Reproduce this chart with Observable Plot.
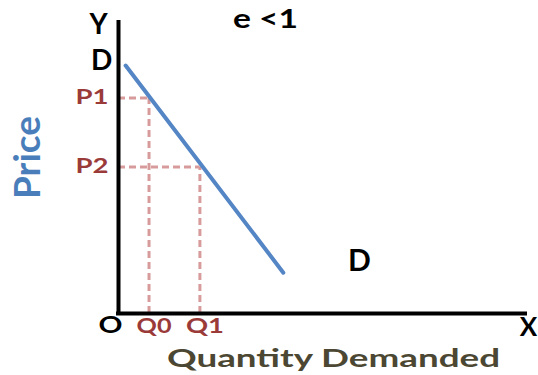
<!DOCTYPE html>
<html>
<head>
<meta charset="utf-8">
<script src="https://cdn.jsdelivr.net/npm/d3@7"></script>
<script src="https://cdn.jsdelivr.net/npm/@observablehq/plot@0.6"></script>
<style>
  html, body { margin: 0; padding: 0; background: #fff; }
  #chart { width: 538px; height: 375px; }
</style>
</head>
<body>
<div id="chart"></div>
<script>
// Inelastic demand curve (e < 1): a price change from P1 to P2
// moves quantity demanded only a little, from Q0 to Q1.
const demandQuantity = [0.35, 8.1];
const demandPrice = [11.85, 1.95];

const priceTicks = [10.3, 7.0];
const priceLabels = ["P1", "P2"];
const quantityTicks = [1.5, 4.0];
const quantityLabels = ["Q0", "Q1"];

const demand = demandQuantity.map((q, i) => ({q, p: demandPrice[i]}));
const guides = quantityTicks.map((q, i) => ({q, p: priceTicks[i]}));
const priceLabelOf = new Map(priceTicks.map((d, i) => [d, priceLabels[i]]));
const quantityLabelOf = new Map(quantityTicks.map((d, i) => [d, quantityLabels[i]]));

const first = demand[0];
const last = demand[demand.length - 1];

const guideColor = "#d89b9b";
const tickColor = "#9a3b3a";
const centered = {textAnchor: "middle", lineAnchor: "middle"};

const chart = Plot.plot({
  width: 538,
  height: 375,
  marginLeft: 118,
  marginRight: 13,
  marginTop: 20,
  marginBottom: 62,
  style: {fontFamily: "Lato, sans-serif", fontWeight: "bold", background: "#fff", overflow: "visible"},
  x: {domain: [0, 20], axis: null},
  y: {domain: [0, 14], axis: null},
  marks: [
    // dashed guides from the axes to the curve
    Plot.ruleY(guides, {y: "p", x1: 0, x2: "q", stroke: guideColor, strokeWidth: 3, strokeDasharray: "7,4"}),
    Plot.ruleX(guides, {x: "q", y1: 0, y2: "p", stroke: guideColor, strokeWidth: 3, strokeDasharray: "7,4"}),
    // demand curve
    Plot.line(demand, {x: "q", y: "p", stroke: "#5485c4", strokeWidth: 4}),
    // axes
    Plot.ruleX([0], {y1: 0, y2: 14, stroke: "#000", strokeWidth: 4}),
    Plot.ruleY([0], {x1: 0, x2: 20, stroke: "#000", strokeWidth: 4, strokeLinecap: "square"}),
    // tick labels
    Plot.axisY(priceTicks, {anchor: "left", tickSize: 0, tickPadding: 10, tickFormat: d => priceLabelOf.get(d),
      fontSize: 20, color: tickColor, label: null}),
    Plot.axisX(quantityTicks, {anchor: "bottom", tickSize: 0, tickPadding: 5, dx: 5, tickFormat: d => quantityLabelOf.get(d),
      fontSize: 21, color: tickColor, label: null}),
    // axis letters
    Plot.text(["Y"], {frameAnchor: "top-left", dx: -20, dy: 5, fontSize: 28, fill: "#000", ...centered}),
    Plot.text(["X"], {frameAnchor: "bottom-right", dx: 3, dy: 14, fontSize: 26, fill: "#000", ...centered}),
    Plot.text(["O"], {frameAnchor: "bottom-left", dx: -8, dy: 12, fontSize: 23, fill: "#000", ...centered}),
    Plot.text(["e <1"], {frameAnchor: "top-left", dx: 147, dy: -1, fontSize: 27, fill: "#000", ...centered}),
    // curve labels
    Plot.text([first], {x: "q", y: "p", text: () => "D", dx: -24, dy: -4, fontSize: 28, fill: "#000"}),
    Plot.text([last], {x: "q", y: "p", text: () => "D", dx: 76, dy: -11, fontSize: 30, fill: "#000"}),
    // axis titles
    Plot.text(["Price"], {frameAnchor: "left", dx: -90, dy: -9.5, rotate: -90, fontSize: 37, fill: "#4a7ebb", ...centered}),
    Plot.text(["Quantity Demanded"], {frameAnchor: "bottom", dx: 11.5, dy: 45.5, fontSize: 24, fill: "#4b4733", ...centered})
  ]
});

// several labels are set in a wide, stretched face
const setWidth = new Map([
  ["P1", 33], ["P2", 33], ["Q0", 35], ["Q1", 38], ["O", 24], ["e <1", 65], ["Quantity Demanded", 333]
]);
d3.select(chart).selectAll("text").each(function() {
  const w = setWidth.get(this.textContent);
  if (w) d3.select(this).attr("textLength", w).attr("lengthAdjust", "spacingAndGlyphs");
});

document.getElementById("chart").appendChild(chart);
</script>
</body>
</html>
